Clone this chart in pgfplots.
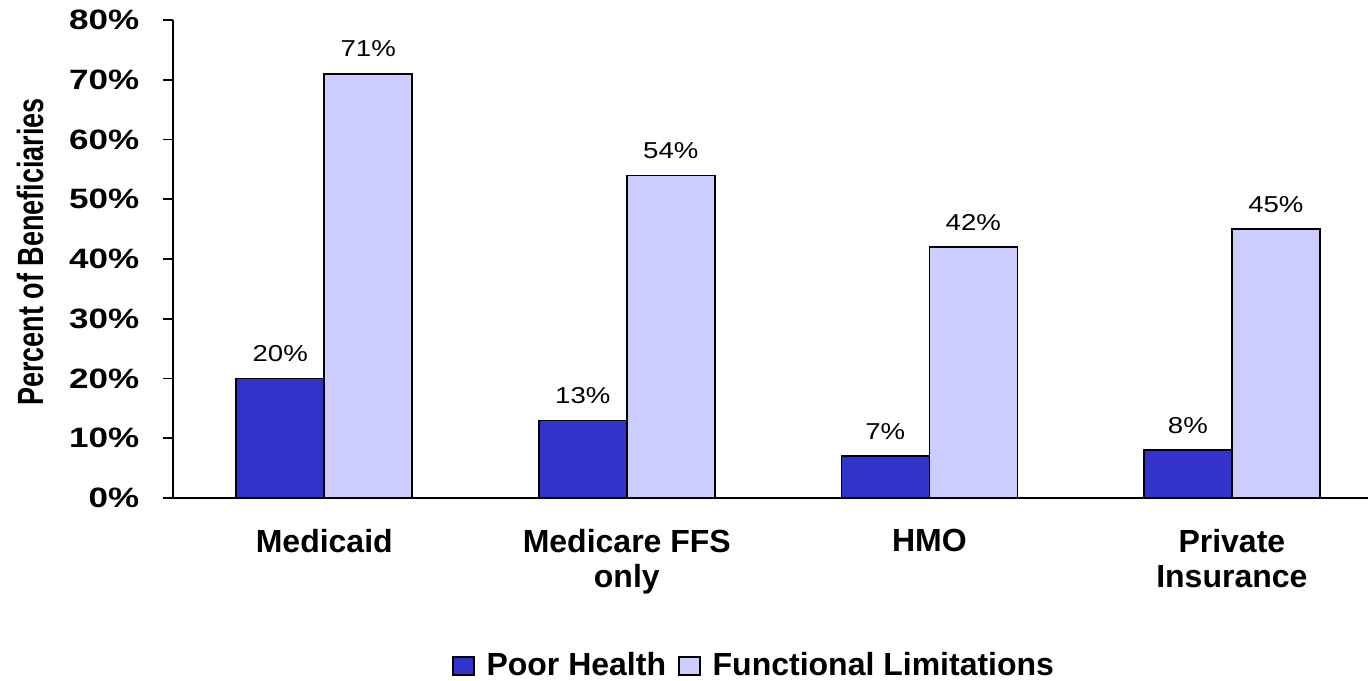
\documentclass[border=0pt]{standalone}
\usepackage{fontspec}
\setmainfont{Liberation Sans}
\usepackage{pgfplots}
\pgfplotsset{compat=1.18}

\definecolor{poor}{HTML}{3333CC}
\definecolor{func}{HTML}{CCCCFF}

\begin{document}
\begin{tikzpicture}
\begin{axis}[
    scale only axis,
    width=597.5pt, height=239pt,
    ybar, bar width=44pt,
    xmin=-0.5, xmax=3.45,
    ymin=0, ymax=80,
    axis x line*=bottom, axis y line*=left,
    axis line style={line width=0.8pt, black},
    tick style={line width=0.8pt, black},
    tick align=outside,
    xtick={0,1,2,3},
    xticklabels={Medicaid, {Medicare FFS\\only}, HMO, {Private\\Insurance}},
    x tick style={draw=none},
    major tick length=5pt,
    extra x ticks={-0.5,0.5,1.5,2.5},
    extra x tick labels={},
    extra x tick style={tick style={draw=black, line width=0.8pt}},
    xticklabel style={align=center, font=\fontsize{16}{17.5}\selectfont\bfseries, yshift=-7pt},
    ytick={0,10,...,80},
    yticklabel={\pgfmathprintnumber{\tick}\%},
    /pgf/number format/assume math mode=true,
    yticklabel style={font=\fontsize{14}{16}\selectfont\bfseries, xscale=1.25, xshift=-6pt},
    ylabel={Percent of Beneficiaries},
    ylabel style={font=\fontsize{13.5}{15}\selectfont\bfseries, yscale=1.35,
        at={(axis description cs:-0.1195,0.515)}, anchor=center},
    nodes near coords={\pgfmathprintnumber{\pgfplotspointmeta}\%},
    nodes near coords style={font=\fontsize{11.5}{13}\selectfont, xscale=1.2, anchor=south, inner sep=0pt, yshift=8pt, black},
    legend columns=2,
    legend style={at={(0.487,-0.351)}, anchor=center, draw=none,
        font=\fontsize{16}{18}\selectfont\bfseries,
        /tikz/every odd column/.append style={column sep=4pt},
        /tikz/every even column/.append style={column sep=4pt}},
    legend image code/.code={\draw[#1, line width=0.8pt] (0pt,-4.5pt) rectangle (10.5pt,4.5pt);},
]
\addplot[fill=poor, draw=black, line width=0.8pt, bar shift=-22pt] coordinates {(0,20) (1,13) (2,7) (3,8)};
\addplot[fill=func, draw=black, line width=0.8pt, bar shift=22pt] coordinates {(0,71) (1,54) (2,42) (3,45)};
\legend{Poor Health, Functional Limitations}
\end{axis}
\pgfresetboundingbox
\path (current axis.south west) ++(-86.5pt,-91pt) rectangle ++(684pt,340pt);
\end{tikzpicture}
\end{document}
